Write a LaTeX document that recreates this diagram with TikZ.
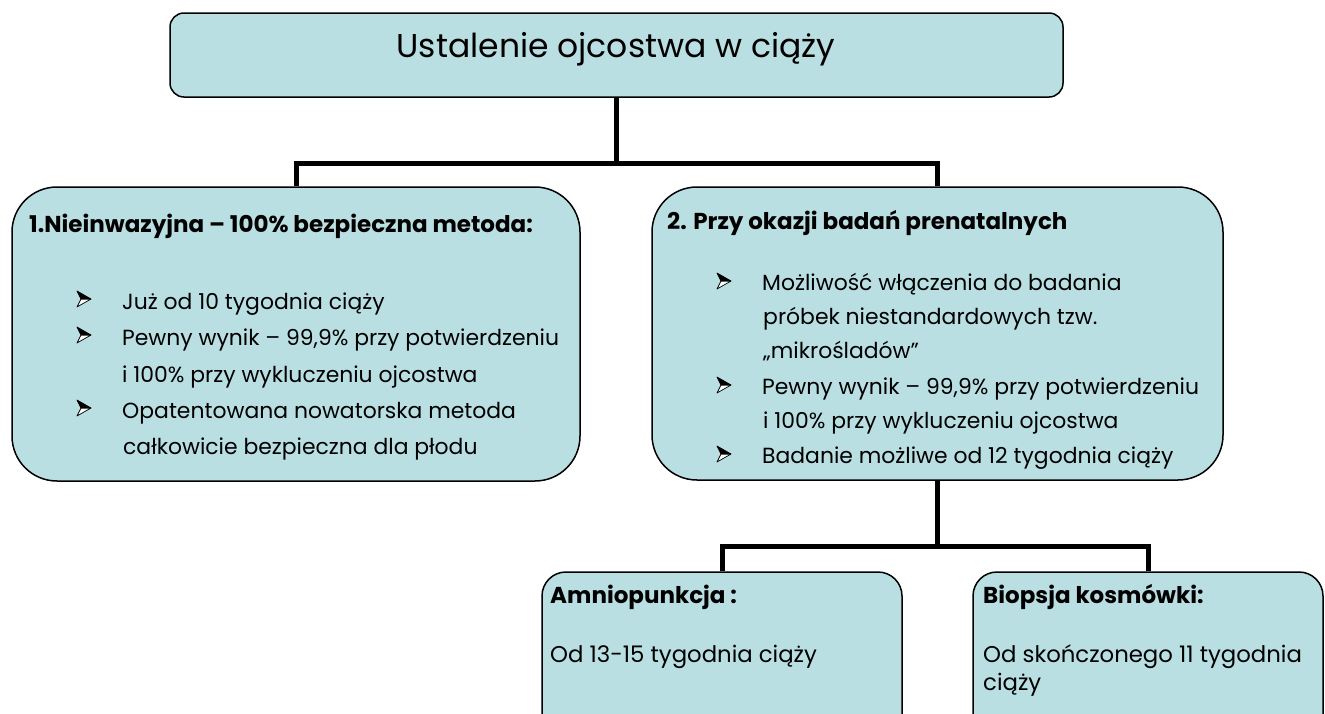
\documentclass[tikz,border=0pt]{standalone}
\usepackage{fontspec}
\setmainfont{Poppins}
\definecolor{boxfill}{HTML}{B9DFE3}
\tikzset{
  box/.style={draw=black, line width=1.5pt, fill=boxfill, inner sep=0pt},
  conn/.style={draw=black, line width=5pt},
  txt/.style={anchor=base west, inner sep=0pt, font=\fontsize{21.9}{26}\selectfont},
  btxt/.style={anchor=base west, inner sep=0pt, font=\fontsize{22.8}{27}\selectfont},
  head/.style={anchor=base west, inner sep=0pt, font=\fontsize{23}{27}\selectfont\bfseries},
  ttl/.style={anchor=base, inner sep=0pt, font=\fontsize{33}{40}\selectfont},
  bul/.pic={
    \filldraw[line width=0.7pt, line join=round, fill=white] (4,0) -- (14,0) -- (0,8) -- cycle;
    \filldraw[line width=0.7pt, line join=round, fill=black] (4,0) -- (14,0) -- (0,-8) -- cycle;
  },
}
\begin{document}
\begin{tikzpicture}[x=1pt,y=-1pt]
\clip (0,0) rectangle (1325,713);
\fill[white] (0,0) rectangle (1325,713);
% boxes
\node[box, rounded corners=14pt, minimum width=893pt, minimum height=84pt] (title) at (616.5,55) {};
\node[box, rounded corners=45pt, minimum width=568pt, minimum height=294pt] (left) at (296,334) {};
\node[box, rounded corners=45pt, minimum width=571pt, minimum height=293pt] (right) at (937.5,333.5) {};
\node[box, rounded corners=24pt, minimum width=360pt, minimum height=168pt] (amnio) at (722,656) {};
\node[box, rounded corners=24pt, minimum width=350pt, minimum height=168pt] (bio) at (1148,656) {};
% connectors
\coordinate (j1) at (616.5,163);
\coordinate (j2) at (937.5,546);
\draw[conn] (title.south) -- (j1);
\draw[conn] (j1) -| (left.north);
\draw[conn] (j1) -| (right.north);
\draw[conn] (right.south) -- (j2);
\draw[conn] (j2) -| (amnio.north);
\draw[conn] (j2) -| (bio.north);
% title
\node[ttl] (ttext) at (616,57) {Ustalenie ojcostwa w ciąży};
% left box
\node[head] (lh) at (29,232) {1.Nieinwazyjna – 100\% bezpieczna metoda:};
\pic at (77,299) {bul};
\node[txt] (l1) at (122,309) {Już od 10 tygodnia ciąży};
\pic at (77,335) {bul};
\node[txt] (l2) at (122,345) {Pewny wynik – 99,9\% przy potwierdzeniu};
\node[txt] (l3) at (122,382) {i 100\% przy wykluczeniu ojcostwa};
\pic at (77,408) {bul};
\node[txt] (l4) at (122,418) {Opatentowana nowatorska metoda};
\node[txt] (l5) at (123,454) {całkowicie bezpieczna dla płodu};
% right box
\node[head] (rh) at (667,229) {2. Przy okazji badań prenatalnych};
\pic at (717,281) {bul};
\node[txt] (r1) at (762,290) {Możliwość włączenia do badania};
\node[txt] (r2) at (763,324) {próbek niestandardowych tzw.};
\node[txt] (r3) at (763,358) {„mikrośladów”};
\pic at (717,385) {bul};
\node[txt] (r4) at (762,394) {Pewny wynik – 99,9\% przy potwierdzeniu};
\node[txt] (r5) at (763,428) {i 100\% przy wykluczeniu ojcostwa};
\pic at (717,454) {bul};
\node[txt] (r6) at (762,463) {Badanie możliwe od 12 tygodnia ciąży};
% bottom boxes
\node[head] (ah) at (550,603) {Amniopunkcja :};
\node[btxt] (a1) at (550,662) {Od 13-15 tygodnia ciąży};
\node[head] (bh) at (983,603) {Biopsja kosmówki:};
\node[btxt] (b1) at (983,662) {Od skończonego 11 tygodnia};
\node[btxt] (b2) at (983,690) {ciąży};
\end{tikzpicture}
\end{document}
